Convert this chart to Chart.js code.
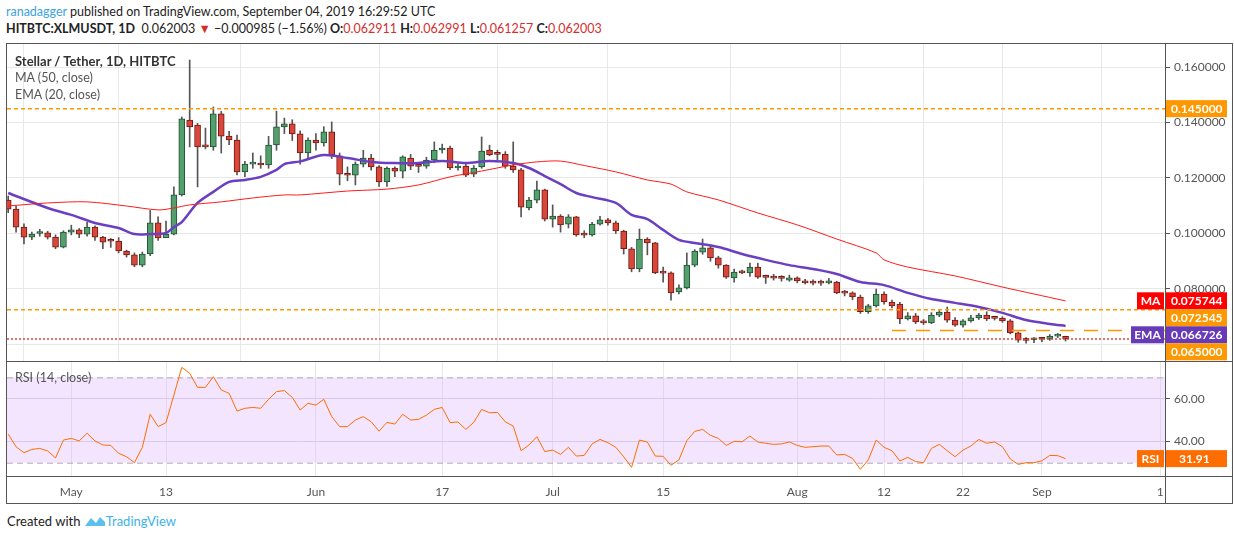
<!DOCTYPE html>
<html>
<head>
<meta charset="utf-8">
<script src="https://cdn.jsdelivr.net/npm/chart.js@4"></script>
<style>
  body { margin: 0; background: #fff; font-family: Lato, sans-serif; width: 1234px; height: 540px; overflow: hidden; position: relative; }
  .abs { position: absolute; }
  .hdr { font-size: 12.5px; color: #222; white-space: nowrap; }
  .red { color: #d32f2f; }
  .leg { font-size: 12.5px; color: #555; left: 15px; }
  .line { position: absolute; background: #555; }
</style>
</head>
<body>
<div class="abs hdr" style="left:6px;top:4px;"><span style="color:#3ca3dd">ranadagger</span> published on TradingView.com, September 04, 2019 16:29:52 UTC</div>
<div class="abs hdr" style="left:6px;top:21px;"><b>HITBTC:XLMUSDT, 1D</b>&nbsp; 0.062003 <span class="red">▼</span> −0.000985 (−1.56%) <b>O:</b><span class="red">0.062911</span> <b>H:</b><span class="red">0.062991</span> <b>L:</b><span class="red">0.061257</span> <b>C:</b><span class="red">0.062003</span></div>

<canvas id="main" class="abs" style="left:7px;top:44px;" width="1225" height="317"></canvas>
<canvas id="rsi" class="abs" style="left:7px;top:362px;" width="1225" height="141"></canvas>

<div class="abs leg" style="top:53px;color:#333;font-size:13px;"><b>Stellar / Tether, 1D, HITBTC</b></div>
<div class="abs leg" style="top:70px;">MA (50, close)</div>
<div class="abs leg" style="top:87px;">EMA (20, close)</div>
<div class="abs leg" style="top:370px;">RSI (14, close)</div>

<div class="line" style="left:6px;top:43px;width:1227px;height:1px;"></div>
<div class="line" style="left:6px;top:503px;width:1227px;height:1px;"></div>
<div class="line" style="left:6px;top:43px;width:1px;height:461px;"></div>
<div class="line" style="left:1232px;top:43px;width:1px;height:461px;"></div>
<div class="line" style="left:6px;top:361px;width:1227px;height:1px;"></div>
<div class="line" style="left:6px;top:476px;width:1227px;height:1px;"></div>
<div class="line" style="left:1165px;top:43px;width:1px;height:461px;"></div>

<div class="abs" style="left:7px;top:513px;font-size:13px;color:#222;white-space:nowrap;">Created with
  <svg width="22" height="14" viewBox="0 0 22 14" style="vertical-align:-2px"><path d="M1 12 L7 4 L12 9 L16 3 L21 8 L21 12 Z" fill="#5bc0eb"/></svg><span style="color:#3cb4e7">TradingView</span></div>

<script>
// daily candles, index 0 = Apr 23 2019
const opens = [.112,.1088,.1023,.0987,.1000,.1002,.0987,.0951,.1005,.1013,.0998,.1023,.0987,.0973,.0973,.0937,.0923,.0886,.0926,.1038,
 .0984,.0998,.1139,.1409,.1391,.1313,.1312,.1431,.1351,.1337,.1222,.1250,.1251,.1247,.1319,.1384,.1395,.1359,.1290,.1337,
 .1326,.1366,.1280,.1211,.1210,.1250,.1272,.1240,.1186,.1236,.1225,.1272,.1243,.1243,.1265,.1301,.1308,.1236,.1243,.1214,
 .1240,.1301,.1286,.1286,.1243,.1229,.1092,.1120,.1157,.1052,.1063,.1034,.1060,.0995,.0995,.1034,.1049,.1038,.1009,.0945,
 .0872,.0980,.0966,.0858,.0858,.0789,.0804,.0886,.0933,.0948,.0912,.0886,.0840,.0861,.0858,.0879,.0843,.0840,.0839,.0832,
 .0840,.0829,.0822,.0822,.0822,.0825,.0786,.0786,.0771,.0718,.0739,.0782,.0753,.0746,.0692,.0703,.0685,.0678,.0706,.0717,
 .0688,.0670,.0685,.0696,.0706,.0695,.0695,.0685,.0642,.0616,.0617,.0620,.0620,.0630,.062911];
const closes = [.1088,.1023,.0987,.0998,.1001,.0987,.0951,.1005,.1013,.0998,.1023,.0987,.0969,.0972,.0937,.0923,.0886,.0926,.1038,.0984,
 .0998,.1139,.1413,.1384,.1312,.1312,.1431,.1351,.1337,.1222,.1250,.1251,.1247,.1319,.1384,.1395,.1359,.1290,.1337,.1326,
 .1366,.1283,.1214,.1210,.1250,.1272,.1240,.1186,.1236,.1225,.1276,.1243,.1242,.1265,.1301,.1308,.1236,.1243,.1210,.1236,
 .1297,.1283,.1285,.1243,.1229,.1095,.1120,.1157,.1052,.1063,.1031,.1060,.0995,.0994,.1034,.1049,.1038,.1009,.0945,.0872,
 .0980,.0966,.0858,.0857,.0786,.0804,.0886,.0937,.0948,.0912,.0886,.0843,.0861,.0858,.0879,.0843,.0842,.0839,.0838,.0840,
 .0829,.0822,.0821,.0821,.0825,.0786,.0785,.0771,.0718,.0739,.0782,.0753,.0739,.0692,.0703,.0681,.0678,.0706,.0717,.0688,
 .0670,.0685,.0696,.0706,.0692,.0694,.0685,.0642,.0616,.0615,.0618,.0619,.0630,.0631,.062003];
const highs = [.1135,.1098,.1035,.1005,.1015,.1008,.0995,.1010,.1030,.1018,.1040,.1028,.0990,.0982,.0985,.0940,.0930,.0933,.1083,.1060,
 .1045,.1168,.1420,.1625,.1397,.1380,.1456,.1440,.1368,.1355,.1260,.1290,.1280,.1350,.1441,.1416,.1410,.1370,.1345,.1360,
 .1385,.1402,.1290,.1240,.1258,.1300,.1285,.1245,.1240,.1240,.1280,.1285,.1250,.1275,.1330,.1322,.1315,.1252,.1250,.1245,
 .1348,.1318,.1300,.1295,.1330,.1235,.1130,.1189,.1160,.1103,.1068,.1068,.1062,.1010,.1040,.1062,.1055,.1045,.1012,.0950,
 .1016,.0985,.0968,.0879,.0862,.0815,.0930,.0942,.0980,.0955,.0918,.0888,.0872,.0868,.0893,.0893,.0850,.0853,.0848,.0850,
 .0844,.0835,.0833,.0832,.0838,.0828,.0795,.0790,.0778,.0745,.0800,.0790,.0760,.0752,.0715,.0712,.0690,.0715,.0722,.0735,
 .0697,.0690,.0705,.0712,.0718,.0702,.0700,.0690,.0645,.0625,.0625,.0625,.0636,.0640,.062991];
const lows = [.1075,.1005,.0962,.0978,.0990,.0980,.0945,.0948,.0995,.0985,.0990,.0975,.0945,.0950,.0930,.0915,.0880,.0880,.0920,.0975,
 .0990,.0995,.1135,.1312,.1168,.1305,.1300,.1290,.1320,.1211,.1205,.1235,.1235,.1235,.1300,.1360,.1335,.1250,.1270,.1300,
 .1315,.1270,.1175,.1190,.1175,.1240,.1228,.1170,.1170,.1205,.1200,.1230,.1220,.1235,.1255,.1290,.1230,.1228,.1205,.1205,
 .1235,.1280,.1265,.1235,.1220,.1060,.1085,.1110,.1045,.1023,.1005,.1020,.0990,.0985,.0990,.1030,.1030,.1000,.0926,.0862,
 .0862,.0923,.0855,.0825,.0760,.0782,.0800,.0880,.0925,.0900,.0875,.0838,.0825,.0855,.0845,.0838,.0820,.0832,.0828,.0828,
 .0822,.0818,.0815,.0813,.0818,.0783,.0775,.0762,.0712,.0712,.0735,.0745,.0732,.0675,.0688,.0675,.0672,.0675,.0700,.0680,
 .0665,.0662,.0680,.0690,.0686,.0688,.0680,.0638,.0608,.0605,.0607,.0610,.0615,.0625,.061257];

// indicator lines, sampled at candle indices
const emaIdx = [0,5,8,11,14,16,18,20,21,22,24,26,28,30,32,34,35,37,40,43,46,49,52,55,58,61,64,66,68,70,72,74,77,79,81,83,85,87,90,93,96,99,102,105,108,111,114,117,120,123,126,129,132,134];
const emaVal = [.1146,.1092,.1067,.1038,.1020,.0998,.0998,.1002,.1023,.1041,.1110,.1150,.1186,.1193,.1204,.1229,.1250,.1260,.1283,.1272,.1258,.1254,.1254,.1261,.1254,.1261,.1254,.1236,.1207,.1178,.1146,.1131,.1110,.1067,.1052,.1013,.0977,.0966,.0951,.0926,.0905,.0886,.0872,.0854,.0825,.0814,.0786,.0764,.0750,.0735,.0714,.0688,.0674,.0667];
const maIdx = [0,5,10,15,19,21,23,27,31,35,37,43,48,52,56,60,64,67,70,73,77,81,84,86,90,95,100,105,110,111,114,120,126,130,134];
const maVal = [.1099,.1110,.1114,.1099,.1085,.1092,.1103,.1114,.1128,.1139,.1139,.1153,.1160,.1175,.1204,.1225,.1247,.1258,.1261,.1245,.1222,.1193,.1178,.1150,.1121,.1074,.1031,.0980,.0930,.0905,.0879,.0847,.0807,.0782,.0757];

const rsiVal = [43.4,37.5,34.7,36.2,36.7,35.5,32.2,40.6,41.4,40.2,43.8,40.2,38.3,38.1,34.4,32.8,30.0,37.2,52.7,46.9,
 48.8,61.7,74.7,71.9,65.3,65.3,70.3,64.1,62.5,54.2,55.5,55.9,55.5,59.7,63.3,63.8,60.6,54.7,57.8,57.0,
 59.7,51.6,46.9,46.9,50.0,51.6,49.2,44.8,48.9,48.1,52.7,50.0,50.3,52.3,55.0,55.9,48.8,49.1,45.6,48.9,
 55.0,53.4,53.6,49.1,47.2,35.6,38.3,42.2,35.2,35.9,33.9,37.2,33.1,33.4,38.8,40.9,39.4,37.2,32.8,27.8,
 40.6,39.7,33.1,33.0,28.8,31.3,40.3,44.7,45.6,42.8,41.4,38.1,40.0,39.8,42.5,39.7,39.1,38.6,38.8,39.7,
 38.1,37.2,37.5,37.8,37.8,33.6,33.9,32.0,26.9,31.3,40.6,37.2,35.6,30.8,32.5,30.5,30.0,36.7,38.6,35.6,
 32.8,35.9,37.8,40.9,39.1,39.7,37.5,31.7,29.2,30.0,30.0,30.9,33.4,33.3,31.91];

const tickPos = [8, 20, 39, 55, 69, 83, 100, 111, 121, 131, 146];
const tickLabels = ['May', '13', 'Jun', '17', 'Jul', '15', 'Aug', '12', '22', 'Sep', '1'];
const priceTicks = [0.06, 0.08, 0.10, 0.12, 0.14, 0.16];

const X_MIN = -0.15, X_MAX = 146.6;
const GREEN = '#53a06d', GREEN_B = '#1f4f32', RED = '#d9473b', RED_B = '#6e1a12';
const up = closes.map((c, i) => c >= opens[i]);

Chart.defaults.font.family = 'Lato, sans-serif';
Chart.defaults.font.size = 12;
Chart.defaults.color = '#555';
Chart.defaults.animation = false;

const noPad = s => { s.paddingTop = 0; s.paddingBottom = 0; s.paddingLeft = 0; s.paddingRight = 0; };

const xScaleBase = {
  type: 'linear', min: X_MIN, max: X_MAX, offset: false,
  afterBuildTicks: s => { s.ticks = tickPos.map(v => ({ value: v })); },
  grid: { color: '#e8e8e8', drawTicks: false },
  border: { display: false },
};

function levelLine(v, color, dash, from) {
  return { type: 'line', data: [{ x: from, y: v }, { x: X_MAX, y: v }], borderColor: color, borderWidth: 1.5,
    borderDash: dash, pointRadius: 0, order: 0 };
}

const axisBoxes = {
  id: 'axisBoxes',
  afterDraw(chart) {
    const { ctx, chartArea, scales } = chart;
    const boxes = chart.options.plugins.axisBoxes.items.map(b => ({ ...b, py: scales.y.getPixelForValue(b.v) }));
    let last = -1e9;
    ctx.save();
    ctx.font = 'bold 12px Lato, sans-serif';
    ctx.textBaseline = 'middle';
    boxes.forEach(b => {
      if (b.stack) { b.py = Math.max(b.py, last + 17); last = b.py; }
      const x0 = chartArea.right + 1;
      ctx.fillStyle = b.bg;
      ctx.fillRect(x0, b.py - 8.5, 61, 17);
      ctx.fillStyle = '#fff';
      ctx.textAlign = 'left';
      ctx.fillText(b.txt, x0 + 5, b.py + 0.5);
      if (b.tag) {
        ctx.fillStyle = b.bg;
        const w = b.tag.length > 2 ? 33 : 27;
        ctx.fillRect(chartArea.right - w - 1, b.py - 8.5, w, 17);
        ctx.fillStyle = '#fff';
        ctx.textAlign = 'center';
        ctx.fillText(b.tag, chartArea.right - w / 2 - 1, b.py + 0.5);
      }
    });
    ctx.restore();
  }
};

new Chart(document.getElementById('main'), {
  type: 'bar',
  data: {
    datasets: [
      levelLine(0.145, '#ff9800', [4, 3], X_MIN),
      levelLine(0.0725, '#ff9800', [4, 3], X_MIN),
      levelLine(0.065, '#ff9800', [14, 10], 112),
      levelLine(0.062003, '#d84a3a', [2, 2], X_MIN),
      { type: 'line', data: maIdx.map((x, i) => ({ x, y: maVal[i] })), borderColor: '#ff1a1a', borderWidth: 1,
        pointRadius: 0, tension: 0.3, order: 1 },
      { type: 'line', data: emaIdx.map((x, i) => ({ x, y: emaVal[i] })), borderColor: '#6a3fc2', borderWidth: 2.5,
        pointRadius: 0, tension: 0.3, order: 1 },
      { data: lows.map((l, i) => ({ x: i, y: [l, highs[i]] })), backgroundColor: '#555', barThickness: 1,
        grouped: false, order: 3 },
      { data: opens.map((o, i) => ({ x: i, y: [o, closes[i]] })),
        backgroundColor: up.map(u => u ? GREEN : RED), borderColor: up.map(u => u ? GREEN_B : RED_B),
        borderWidth: 1, borderSkipped: false, barThickness: 6, minBarLength: 2, grouped: false, order: 2 },
    ]
  },
  options: {
    responsive: false,
    layout: { padding: 0 },
    plugins: {
      legend: { display: false }, tooltip: { enabled: false },
      axisBoxes: { items: [
        { v: 0.145, bg: '#ff9800', txt: '0.145000' },
        { v: 0.075744, bg: '#ff0000', txt: '0.075744', tag: 'MA', stack: true },
        { v: 0.072545, bg: '#ff9800', txt: '0.072545', stack: true },
        { v: 0.066726, bg: '#673ab7', txt: '0.066726', tag: 'EMA', stack: true },
        { v: 0.065, bg: '#ff9800', txt: '0.065000', stack: true },
      ] }
    },
    scales: {
      x: { ...xScaleBase, ticks: { display: false }, afterFit: s => { s.height = 0; noPad(s); } },
      y: {
        position: 'right', min: 0.05405, max: 0.16829,
        afterBuildTicks: s => { s.ticks = priceTicks.map(v => ({ value: v })); },
        afterFit: s => { s.width = 67; noPad(s); },
        ticks: { callback: v => v === 0.06 ? '' : v.toFixed(6), padding: 4, color: '#555' },
        grid: { color: '#e8e8e8', tickLength: 5, tickColor: '#555' },
        border: { display: false },
      }
    }
  },
  plugins: [axisBoxes]
});

const rsiBand = {
  id: 'rsiBand',
  beforeDatasetsDraw(chart) {
    const { ctx, chartArea, scales } = chart;
    const y70 = scales.y.getPixelForValue(70), y30 = scales.y.getPixelForValue(30);
    ctx.save();
    ctx.fillStyle = 'rgba(222,180,250,0.35)';
    ctx.fillRect(chartArea.left, y70, chartArea.width, y30 - y70);
    ctx.strokeStyle = '#b0a8b8';
    ctx.setLineDash([6, 4]);
    ctx.lineWidth = 1;
    [y70, y30].forEach(y => { ctx.beginPath(); ctx.moveTo(chartArea.left, y + 0.5); ctx.lineTo(chartArea.right, y + 0.5); ctx.stroke(); });
    ctx.restore();
  },
  afterDraw(chart) {
    const { ctx, chartArea, scales } = chart;
    const y = scales.y.getPixelForValue(31.91);
    ctx.save();
    ctx.fillStyle = '#ff6d00';
    ctx.fillRect(chartArea.right + 1, y - 8.5, 61, 17);
    ctx.fillRect(chartArea.right - 28, y - 8.5, 27, 17);
    ctx.fillStyle = '#fff';
    ctx.font = 'bold 12px Lato, sans-serif';
    ctx.textBaseline = 'middle';
    ctx.fillText('31.91', chartArea.right + 14, y + 0.5);
    ctx.textAlign = 'center';
    ctx.fillText('RSI', chartArea.right - 14.5, y + 0.5);
    ctx.restore();
  }
};

new Chart(document.getElementById('rsi'), {
  type: 'line',
  data: { datasets: [{ data: rsiVal.map((v, i) => ({ x: i, y: v })), borderColor: '#ff6d00', borderWidth: 1, pointRadius: 0 }] },
  options: {
    responsive: false,
    layout: { padding: 0 },
    plugins: { legend: { display: false }, tooltip: { enabled: false } },
    scales: {
      x: { ...xScaleBase, position: 'bottom',
        afterFit: s => { s.height = 27; noPad(s); },
        ticks: { callback: (v, i) => tickLabels[i], padding: 9, maxRotation: 0, autoSkip: false, color: '#555' } },
      y: {
        position: 'right', min: 23.76, max: 77.2,
        afterBuildTicks: s => { s.ticks = [40, 60].map(v => ({ value: v })); },
        afterFit: s => { s.width = 67; noPad(s); },
        ticks: { callback: v => v.toFixed(2), padding: 4 },
        grid: { color: '#ddd0e6', tickLength: 5, tickColor: '#555' },
        border: { display: false },
      }
    }
  },
  plugins: [rsiBand]
});
</script>
</body>
</html>
